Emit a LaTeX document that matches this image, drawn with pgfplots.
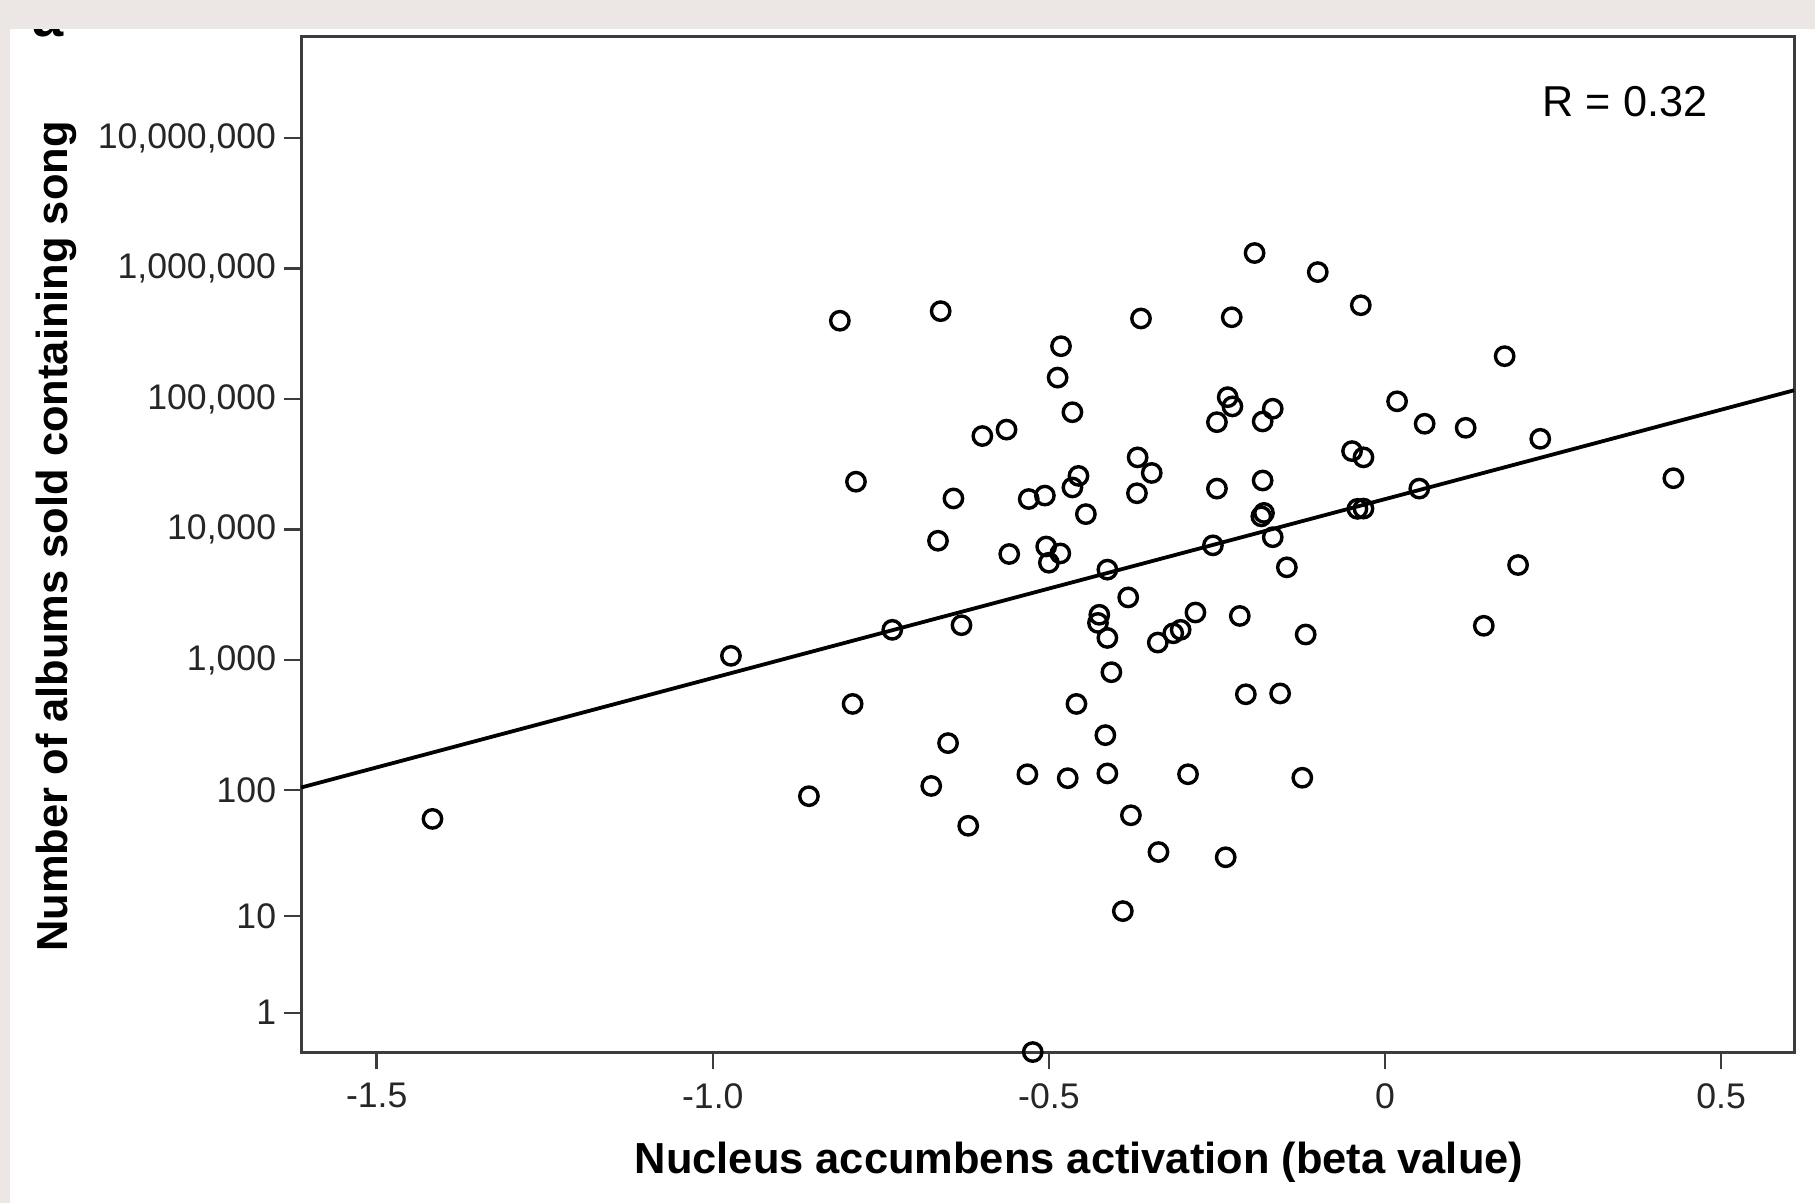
\documentclass[border=0pt]{standalone}
\usepackage{fontspec}
\setmainfont{Liberation Sans}
\usepackage{pgfplots}
\usepackage{pgfplotstable}
\pgfplotsset{compat=1.18}

\definecolor{bggray}{RGB}{236,231,229}
\definecolor{axisgray}{RGB}{60,60,60}

% beta value vs. number of albums sold (0 = none sold)
\pgfplotstableread{
x n
-1.417 60
-0.973 1080
-0.857 90
-0.811 398000
-0.787 23300
-0.792 462
-0.733 1709
-0.675 108
-0.661 471000
-0.665 8224
-0.650 231
-0.642 17340
-0.630 1854
-0.620 53
-0.599 52100
-0.563 58350
-0.559 6508
-0.532 133
-0.530 17160
-0.524 0
-0.506 18240
-0.504 7430
-0.500 5580
-0.483 6574
-0.482 254000
-0.487 146000
-0.472 124
-0.465 79300
-0.465 21040
-0.456 25800
-0.459 462
-0.445 13150
-0.425 2228
-0.427 1931
-0.413 1481
-0.416 266
-0.413 4940
-0.413 135
-0.407 809
-0.390 11
-0.382 3027
-0.378 64
-0.368 35770
-0.369 19000
-0.363 414000
-0.347 27170
-0.337 33
-0.338 1365
-0.315 1607
-0.304 1709
-0.293 133
-0.282 2320
-0.256 7583
-0.250 20620
-0.250 66530
-0.237 30
-0.234 103400
-0.228 423000
-0.227 87860
-0.216 2183
-0.207 548
-0.194 1313000
-0.182 23790
-0.184 12640
-0.180 13430
-0.182 67350
-0.167 84330
-0.167 8750
-0.156 556
-0.146 5145
-0.123 125
-0.118 1574
-0.100 938000
-0.049 39950
-0.032 35770
-0.036 523000
-0.041 14430
-0.032 14500
0.018 96100
0.051 20620
0.059 64670
0.120 60250
0.147 1835
0.178 213000
0.198 5360
0.231 49610
0.429 24770
}\songs

% fitted line
\pgfplotstableread{
x n
-1.6126 105
0.6085 116700
}\fitline

\begin{document}
\begin{tikzpicture}
\path[use as bounding box] (0,0) rectangle (453.75pt,-300.75pt);
\fill[white] (0,0) rectangle (453.75pt,-300.75pt);
\node[anchor=base, inner sep=0pt, font=\fontsize{14}{15}\selectfont\bfseries] at (12pt,-9pt) {a};
\fill[bggray] (0,0) rectangle (453.75pt,-7.25pt);
\fill[bggray] (0,0) rectangle (2.5pt,-300.75pt);

\begin{axis}[
    at={(75.25pt,-263pt)}, anchor=south west,
    scale only axis,
    width=373.25pt, height=253.8pt,
    xmin=-1.6126, xmax=0.6085,
    ymode=log, ymin=1, ymax=5.94e7,
    xtick={-1.5,-1,-0.5,0,0.5},
    xticklabels={-1.5,-1.0,-0.5,0,0.5},
    ytick={2,11,101,1001,10001,100001,1000001,10000001},
    yticklabels={1,10,100,{1,000},{10,000},{100,000},{1,000,000},{10,000,000}},
    yminorticks=false, xminorticks=false,
    tick align=outside, xtick pos=left, ytick pos=left,
    major tick length=4.3pt,
    tick style={axisgray, line width=0.6pt},
    axis line style={axisgray, line width=0.75pt},
    ticklabel style={font=\fontsize{8.9}{10}\selectfont, text=black!85},
    yticklabel style={xshift=1.6pt},
    clip=false,
]
    \addplot[only marks, mark=o, mark size=2.3pt, mark options={line width=0.85pt}, black]
        table[x=x, y expr=\thisrow{n}+1] {\songs};
    \addplot[black, line width=0.95pt] table[x=x, y expr=\thisrow{n}+1] {\fitline};
\end{axis}

\node[anchor=base, inner sep=0pt, font=\fontsize{10.8}{12}\selectfont] at (406.25pt,-29pt) {R = 0.32};
\node[anchor=base, inner sep=0pt, font=\fontsize{10.86}{12}\selectfont\bfseries] at (269.75pt,-293.3pt) {Nucleus accumbens activation (beta value)};
\node[anchor=base, rotate=90, inner sep=0pt, font=\fontsize{10.86}{12}\selectfont\bfseries] at (16.9pt,-134.1pt) {Number of albums sold containing song};
\end{tikzpicture}
\end{document}
